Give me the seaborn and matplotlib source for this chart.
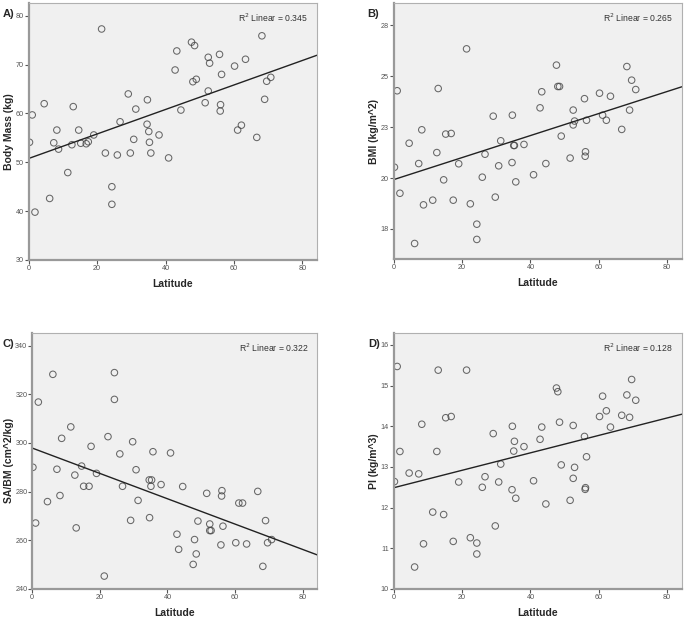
import matplotlib
matplotlib.use("Agg")
import matplotlib.pyplot as plt
import seaborn as sns
import pandas as pd

# latitude (shared by all four panels)
latitude = [0.2, 1.0, 1.8, 4.5, 6.1, 7.3, 8.2, 8.7, 11.4, 12.6, 13.0, 14.6, 15.2, 16.8, 17.4,
            19.0, 21.3, 22.4, 24.3, 24.3, 25.9, 26.7, 29.1, 29.7, 30.7, 31.3, 34.7, 34.6, 35.1,
            35.3, 35.7, 38.1, 40.9, 42.8, 43.3, 44.5, 47.6, 48.5, 48.0, 49.0, 51.6, 52.5, 52.9,
            52.5, 55.8, 56.1, 56.0, 56.4, 60.2, 61.1, 62.2, 63.4, 66.7, 68.2, 69.0, 69.6, 70.8]

body_mass = [54.1, 59.7, 39.8, 62.0, 42.6, 54.0, 56.6, 52.7, 47.9, 53.6, 61.4, 56.6, 53.9, 53.8,
             54.2, 55.6, 77.3, 51.9, 45.0, 41.4, 51.5, 58.3, 64.0, 51.9, 54.7, 60.9, 62.8, 57.8,
             56.3, 54.1, 51.9, 55.6, 50.9, 68.9, 72.8, 60.7, 74.6, 73.9, 66.5, 67.0, 62.2, 71.5,
             70.3, 64.6, 72.1, 61.8, 60.5, 68.0, 69.7, 56.6, 57.6, 71.1, 55.1, 75.9, 62.9, 66.6,
             67.4]

bmi = [20.53, 24.29, 19.25, 21.71, 16.78, 20.71, 22.37, 18.68, 18.91, 21.25, 24.40, 19.91, 22.16,
       22.19, 18.91, 20.70, 26.35, 18.73, 17.73, 16.98, 20.04, 21.17, 23.04, 19.06, 20.60, 21.83,
       23.09, 20.76, 21.60, 21.60, 19.81, 21.65, 20.16, 23.45, 24.24, 20.71, 25.55, 24.50, 24.50,
       22.06, 20.98, 23.34, 22.80, 22.61, 23.90, 21.29, 21.07, 22.84, 24.17, 23.09, 22.84, 24.02,
       22.39, 25.48, 23.34, 24.81, 24.35]

sa_bm = [290.0, 267.1, 316.8, 275.9, 328.2, 289.2, 278.4, 301.9, 306.6, 286.8, 265.1, 290.5, 282.2,
         282.2, 298.6, 287.5, 245.3, 302.6, 328.9, 317.9, 295.5, 282.2, 268.2, 300.5, 289.0, 276.4,
         269.3, 284.8, 282.2, 284.8, 296.4, 282.9, 295.9, 262.5, 256.3, 282.1, 250.1, 254.4, 260.3,
         267.9, 279.3, 264.0, 264.0, 266.7, 258.1, 280.4, 278.2, 265.8, 259.0, 275.3, 275.3, 258.5,
         280.1, 249.3, 268.1, 259.0, 260.3]

pi_index = [12.64, 15.47, 13.38, 12.85, 10.54, 12.83, 14.05, 11.11, 11.89, 13.38, 15.38, 11.83,
            14.21, 14.24, 11.17, 12.63, 15.38, 11.26, 11.13, 10.86, 12.50, 12.76, 13.82, 11.55,
            12.63, 13.07, 14.00, 12.44, 13.39, 13.63, 12.23, 13.50, 12.66, 13.68, 13.98, 12.09,
            14.94, 14.10, 14.85, 13.05, 12.18, 14.02, 12.99, 12.72, 13.75, 12.49, 12.45, 13.25,
            14.24, 14.74, 14.38, 13.98, 14.27, 14.77, 14.22, 15.15, 14.64]

df = pd.DataFrame({"Latitude": latitude, "bm": body_mass, "bmi": bmi,
                   "sabm": sa_bm, "pi": pi_index})

panels = [
    ("A)", "bm", "Body Mass (kg)", "R$^2$ Linear = 0.345", (30, 82.6),
     [30, 40, 50, 60, 70, 80], ["30", "40", "50", "60", "70", "80"]),
    ("B)", "bmi", "BMI (kg/m^2)", "R$^2$ Linear = 0.265", (16.0, 28.6),
     [17.5, 20, 22.5, 25, 27.5], ["18", "20", "23", "25", "28"]),
    ("C)", "sabm", "SA/BM (cm^2/kg)", "R$^2$ Linear = 0.322", (240, 345.3),
     [240, 260, 280, 300, 320, 340], ["240", "260", "280", "300", "320", "340"]),
    ("D)", "pi", "PI (kg/m^3)", "R$^2$ Linear = 0.128", (10, 16.3),
     [10, 11, 12, 13, 14, 15, 16], ["10", "11", "12", "13", "14", "15", "16"]),
]

sns.set_style("white")
plt.rcParams["font.family"] = ["Liberation Sans", "DejaVu Sans"]

fig = plt.figure(figsize=(6.86, 6.19), dpi=100)
boxes = [[0.042, 0.580, 0.420, 0.415],
         [0.574, 0.581, 0.420, 0.414],
         [0.047, 0.0485, 0.4155, 0.414],
         [0.574, 0.0485, 0.420, 0.414]]
label_pos = [(0.004, 0.985), (0.535, 0.985), (0.004, 0.452), (0.537, 0.452)]

for (tag, col, ylab, r2, ylim, yt, ytl), box, lp in zip(panels, boxes, label_pos):
    ax = fig.add_axes(box)
    ax.set_facecolor("#f0f0f0")
    ax.set_xlim(0, 84.3)
    ax.set_ylim(*ylim)
    sns.regplot(data=df, x="Latitude", y=col, ax=ax, ci=None, truncate=False,
                scatter_kws=dict(s=22, facecolors="none", edgecolors="#444444", linewidths=0.75),
                line_kws=dict(color="#222222", lw=1.0), marker="o")
    ax.set_xlim(0, 84.3)
    ax.set_ylim(*ylim)
    ax.set_xticks([0, 20, 40, 60, 80])
    ax.set_yticks(yt)
    ax.set_yticklabels(ytl)
    ax.tick_params(labelsize=5.2, colors="#555555", length=3, width=0.8, pad=0.5)
    ax.tick_params(axis="both", which="both", direction="out", left=True, bottom=True)
    for s in ["left", "bottom"]:
        ax.spines[s].set_color("#999999")
        ax.spines[s].set_linewidth(1.6)
    for s in ["top", "right"]:
        ax.spines[s].set_color("#b0b0b0")
        ax.spines[s].set_linewidth(0.8)
    ax.set_xlabel("Latitude", fontsize=7.5, fontweight="bold", labelpad=5)
    ax.set_ylabel(ylab, fontsize=7.5, fontweight="bold", labelpad=1)
    ax.text(0.97, 0.965, r2, transform=ax.transAxes, ha="right", va="top",
            fontsize=6.2, color="#333333")
    fig.text(lp[0], lp[1], tag, fontsize=8, fontweight="bold", va="top")

fig.savefig("out.png", dpi=100)
